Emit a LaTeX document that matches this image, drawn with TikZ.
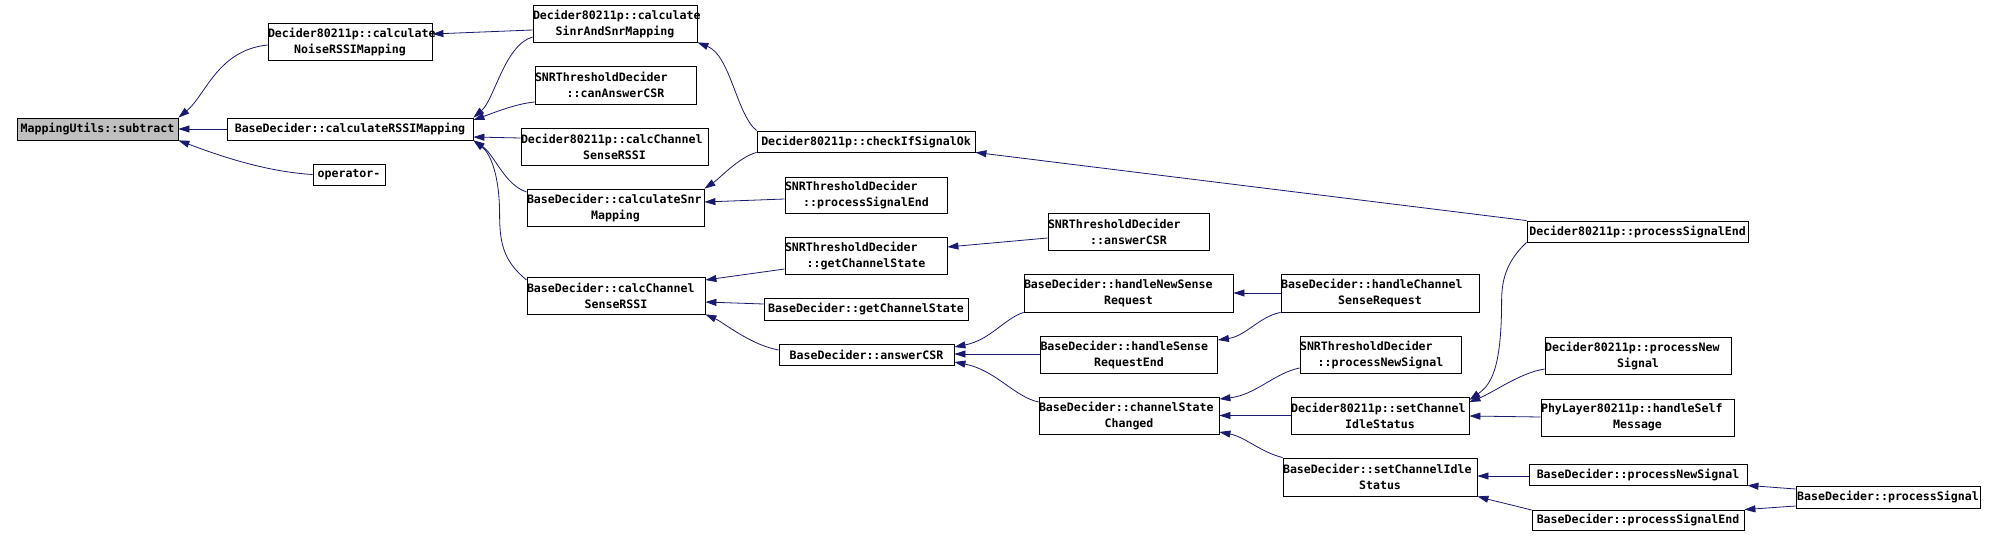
\documentclass[tikz,border=0pt]{standalone}
\usepackage{fontspec}
\setmonofont{DejaVu Sans Mono}
\usetikzlibrary{arrows.meta}
\definecolor{callblue}{RGB}{25,25,112}
\definecolor{rootgray}{RGB}{191,191,191}
\newcommand{\firstln}[1]{\makebox[\hsize][l]{#1}}

\tikzset{
  fn/.style={draw=black, line width=0.8pt, inner sep=0pt, align=center,
    font=\fontsize{11.6}{16}\selectfont\ttfamily\bfseries},
  sz/.style 2 args={text width=#1pt, minimum height=#2pt},
  call/.style={draw=callblue, line width=0.8pt, -{Triangle[length=11pt,width=7pt]}},
}

\begin{document}
\begin{tikzpicture}[x=1pt, y=-1pt]
  \useasboundingbox (0,0) rectangle (1996,537);
  % callee
  \node[fn, fill=rootgray, sz={161}{22}] (sub) at (97.5,129) {MappingUtils::subtract};
  % level 1
  \node[fn, sz={164}{37}] (noise) at (350,41.5) {\firstln{Decider80211p::calculate}\\NoiseRSSIMapping};
  \node[fn, sz={246}{22}] (rssi) at (350,129) {BaseDecider::calculateRSSIMapping};
  \node[fn, sz={72}{21}] (opm) at (349,174.5) {operator-};
  % level 2
  \node[fn, sz={164}{37}] (sinr) at (615,23.5) {\firstln{Decider80211p::calculate}\\SinrAndSnrMapping};
  \node[fn, sz={161}{38}] (cancsr) at (615.5,85) {\firstln{SNRThresholdDecider}\\::canAnswerCSR};
  \node[fn, sz={187}{37}] (dcalc) at (614.5,146.5) {\firstln{Decider80211p::calcChannel}\\SenseRSSI};
  \node[fn, sz={177}{37}] (snrmap) at (615.5,207.5) {\firstln{BaseDecider::calculateSnr}\\Mapping};
  \node[fn, sz={178}{37}] (bcalc) at (616,295.5) {\firstln{BaseDecider::calcChannel}\\SenseRSSI};
  % level 3
  \node[fn, sz={218}{21}] (chk) at (866,141.5) {Decider80211p::checkIfSignalOk};
  \node[fn, sz={162}{36}] (spse) at (866,195) {\firstln{SNRThresholdDecider}\\::processSignalEnd};
  \node[fn, sz={162}{37}] (sgcs) at (866,255.5) {\firstln{SNRThresholdDecider}\\::getChannelState};
  \node[fn, sz={204}{22}] (bgcs) at (866,309) {BaseDecider::getChannelState};
  \node[fn, sz={175}{21}] (bacsr) at (866.5,354.5) {BaseDecider::answerCSR};
  % level 4
  \node[fn, sz={161}{37}] (sacsr) at (1128.5,231.5) {\firstln{SNRThresholdDecider}\\::answerCSR};
  \node[fn, sz={209}{38}] (hnsr) at (1128.5,293) {\firstln{BaseDecider::handleNewSense}\\Request};
  \node[fn, sz={177}{37}] (hsre) at (1129,354.5) {\firstln{BaseDecider::handleSense}\\RequestEnd};
  \node[fn, sz={180}{37}] (csc) at (1129,415.5) {\firstln{BaseDecider::channelState}\\Changed};
  % level 5
  \node[fn, sz={198}{38}] (hcsr) at (1380,293) {\firstln{BaseDecider::handleChannel}\\SenseRequest};
  \node[fn, sz={161}{37}] (spns) at (1380.5,354.5) {\firstln{SNRThresholdDecider}\\::processNewSignal};
  \node[fn, sz={178}{37}] (dscis) at (1380,415.5) {\firstln{Decider80211p::setChannel}\\IdleStatus};
  \node[fn, sz={194}{38}] (bscis) at (1380,477) {\firstln{BaseDecider::setChannelIdle}\\Status};
  % level 6
  \node[fn, sz={221}{21}] (dpse) at (1637.5,231.5) {Decider80211p::processSignalEnd};
  \node[fn, sz={186}{37}] (dpns) at (1638,355.5) {\firstln{Decider80211p::processNew}\\Signal};
  \node[fn, sz={193}{37}] (phy) at (1637.5,417.5) {\firstln{PhyLayer80211p::handleSelf}\\Message};
  \node[fn, sz={218}{21}] (bpns) at (1638,474.5) {BaseDecider::processNewSignal};
  \node[fn, sz={212}{20}] (bpse) at (1638,520) {BaseDecider::processSignalEnd};
  % level 7
  \node[fn, sz={184}{22}] (bps) at (1888,497) {BaseDecider::processSignal};

  % calls into subtract
  \draw[call] (noise.west |- 0,45) .. controls +(-50,5) and +(27,-22) .. (sub.north east);
  \draw[call] (rssi.west) -- (sub.east);
  \draw[call] (opm.west) .. controls +(-53,-3) and +(27,10) .. (sub.south east);
  % calls into level 1
  \draw[call] (sinr.west |- 0,30) -- (noise.east |- 0,34);
  \draw[call] (sinr.west |- 0,37) .. controls +(-28,8) and +(21,-18) .. (rssi.north east);
  \draw[call] (cancsr.west |- 0,102) .. controls +(-20,2) and +(20,-7) .. (rssi.east |- 0,120);
  \draw[call] (dcalc.west |- 0,138) -- (rssi.east |- 0,137);
  \draw[call] (snrmap.west |- 0,192) .. controls +(-22,-7) and +(21,14) .. (rssi.south east);
  \draw[call] (bcalc.west |- 0,280) .. controls +(-22,-18) and +(0,30) .. ++(-27,-65)
    .. controls +(0,-40) and +(17,13) .. (rssi.south east);
  % calls into level 2
  \draw[call] (chk.north west) .. controls +(-20,-16) and +(33,13) .. (sinr.south east);
  \draw[call] (chk.south west) .. controls +(-18,5) and +(15,-10) .. (snrmap.north east);
  \draw[call] (spse.west |- 0,199) -- (snrmap.east |- 0,202);
  \draw[call] (sgcs.west |- 0,269) -- (bcalc.east |- 0,280);
  \draw[call] (bgcs.west |- 0,304) -- (bcalc.east |- 0,302);
  \draw[call] (bacsr.west |- 0,350) .. controls +(-28,-5) and +(18,8) .. (bcalc.south east);
  % calls into level 3
  \draw[call] (sacsr.west |- 0,238) -- (sgcs.east |- 0,247);
  \draw[call] (hnsr.south west) .. controls +(-19,6) and +(36,-7) .. (bacsr.east |- 0,347);
  \draw[call] (hsre.west |- 0,354) -- (bacsr.east |- 0,354);
  \draw[call] (csc.west |- 0,402) .. controls +(-24,-5) and +(41,8) .. (bacsr.east |- 0,362);
  \draw[call] (dpse.north west) -- (chk.south east);
  % calls into level 4
  \draw[call] (hcsr.west) -- (hnsr.east);
  \draw[call] (hcsr.south west) .. controls +(-21,4) and +(28,-4) .. (hsre.east |- 0,340);
  \draw[call] (spns.west |- 0,368) .. controls +(-25,5) and +(36,-4) .. (csc.east |- 0,399);
  \draw[call] (dscis.west) -- (csc.east);
  \draw[call] (bscis.north west) .. controls +(-23,-6) and +(26,5) .. (csc.east |- 0,432);
  % calls into level 5
  \draw[call] (dpse.south west) .. controls +(-17,16) and +(0,-25) .. ++(-25,58)
    .. controls +(0,70) and +(21,-15) .. (dscis.east |- 0,400);
  \draw[call] (dpns.west |- 0,369) .. controls +(-25,4) and +(25,-10) .. (dscis.east |- 0,402);
  \draw[call] (phy.west |- 0,417) -- (dscis.east |- 0,416);
  \draw[call] (bpns.west |- 0,476) -- (bscis.east |- 0,476);
  \draw[call] (bpse.west |- 0,510) .. controls +(-20,-5) and +(15,4) .. (bscis.south east);
  % calls into level 6
  \draw[call] (bps.west |- 0,489) -- (bpns.south east);
  \draw[call] (bps.west |- 0,506) -- (bpse.north east);
\end{tikzpicture}
\end{document}
